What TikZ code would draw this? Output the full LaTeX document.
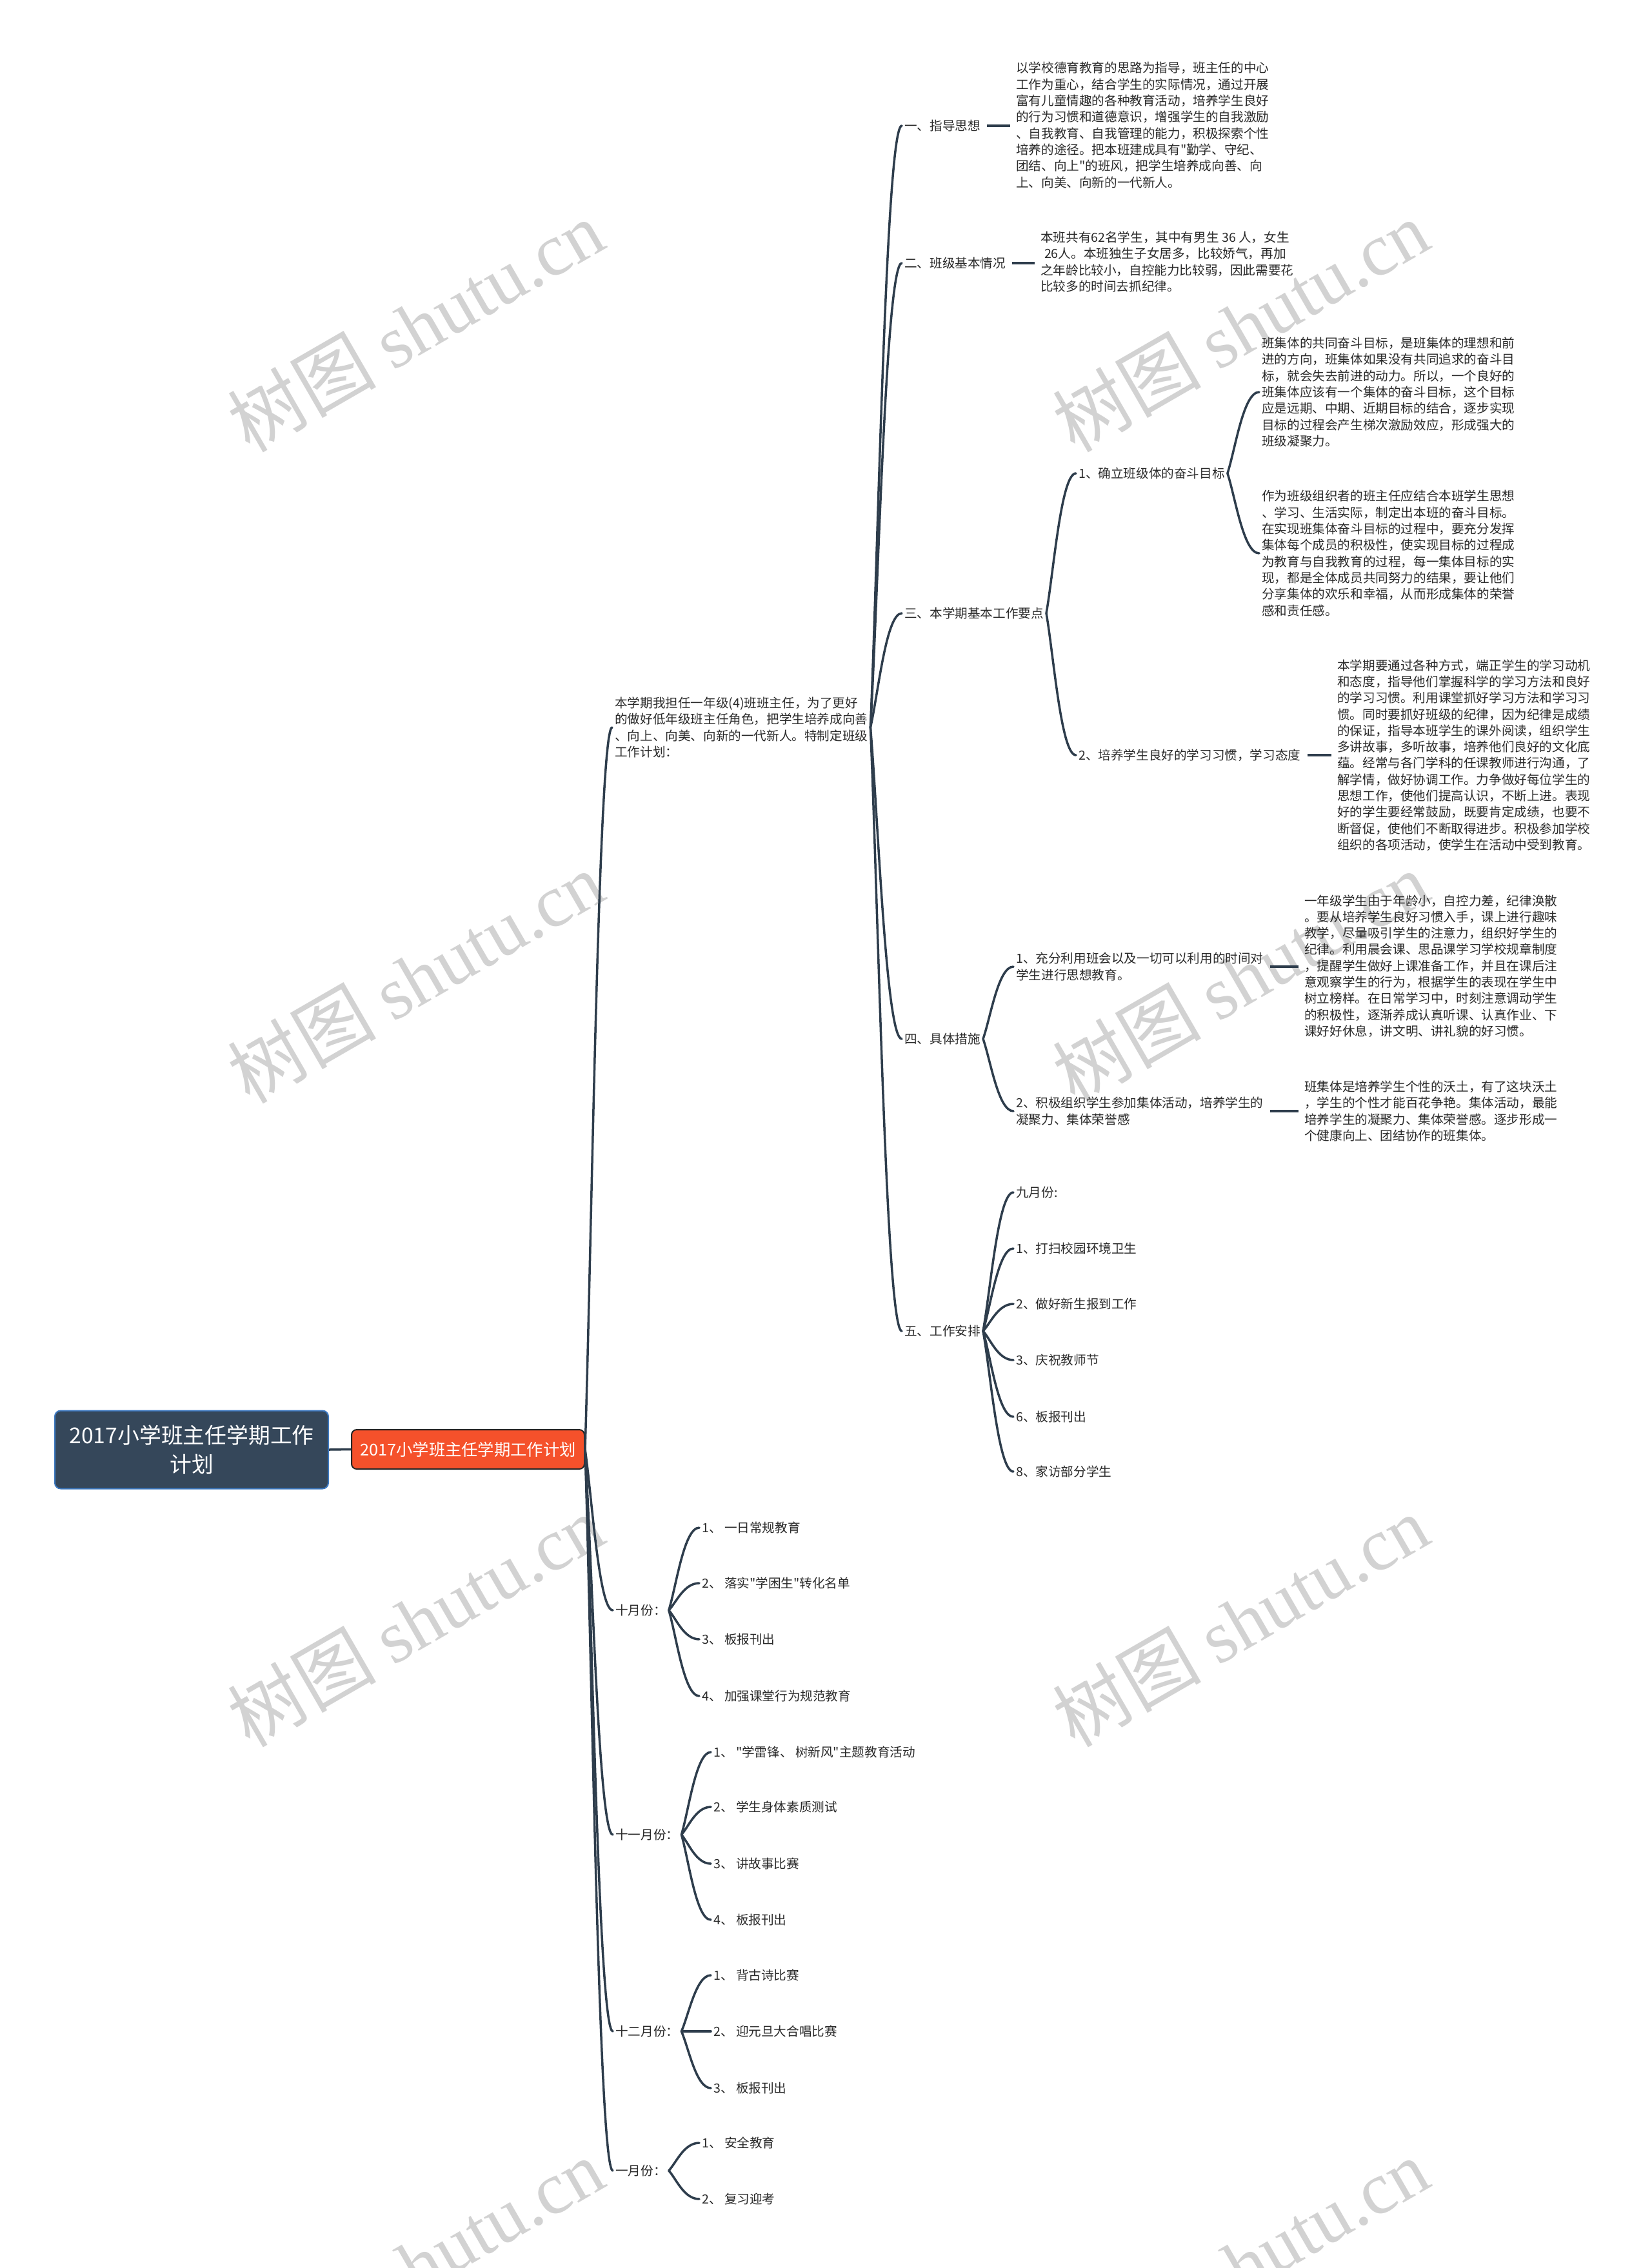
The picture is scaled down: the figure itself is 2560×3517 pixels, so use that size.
\documentclass[tikz,border=0pt]{standalone}
\usepackage{fontspec}
\setmainfont{Noto Sans CJK SC}[Ligatures=TeXOff]
\newfontfamily\wmlatin{Liberation Serif}
\usetikzlibrary{calc}
\definecolor{linec}{HTML}{2E3D4C}
\definecolor{rootfill}{HTML}{35475A}
\definecolor{rootline}{HTML}{3C78C0}
\definecolor{mainfill}{HTML}{F5512B}
\definecolor{txt}{HTML}{2A2A2A}
\definecolor{wm}{HTML}{D2D2D2}
\newcommand\fsn{\fontsize{19.6pt}{25.3pt}\selectfont}
\newcommand\cnx[2]{\draw[conn] let \p1=(#1), \p2=(#2) in (\p1) .. controls ({\x1+0.25*(\x2-\x1)},{\y1+0.3*(\y2-\y1)}) and ({\x1+0.5*(\x2-\x1)},{\y2}) .. (\p2);}
\tikzset{
  conn/.style={draw=linec, line width=3.5pt, line cap=round},
  dashc/.style={draw=linec, line width=3.5pt, shorten <=6pt, shorten >=5pt},
  lbl/.style={anchor=west, inner sep=4pt, text=txt, font=\fsn},
  blk/.style={anchor=west, inner sep=4pt, text=txt, font=\fsn, align=left},
  wmark/.style={rotate=30, text=wm, font=\fontsize{115pt}{115pt}\selectfont},
  rootbox/.style={draw=rootline, line width=2pt, fill=rootfill, rounded corners=9pt, text=white, align=center, minimum width=424pt, minimum height=121pt, font=\fontsize{33.8pt}{45pt}\selectfont},
  mainbox/.style={draw=black!85, line width=2pt, fill=mainfill, rounded corners=8pt, text=white, minimum width=361pt, minimum height=61pt, font=\fontsize{25.3pt}{30pt}\selectfont}
}
\begin{document}
\begin{tikzpicture}[x=1pt,y=1pt]
\fill[white] (0,0) rectangle (2560,-3517);
\useasboundingbox (0,0) rectangle (2560,-3517);
% watermarks
\begin{scope}
\clip (0,0) rectangle (2560,-3517);
\foreach \wy in {505,1515,2513,3511}{
  \node[wmark] (wa\wy) at (644,-\wy) {树图 {\wmlatin shutu.cn}};
  \node[wmark] (wb\wy) at (1923,-\wy) {树图 {\wmlatin shutu.cn}};
}
\end{scope}
% root and main
\node[rootbox] (root) at (297,-2248) {2017小学班主任学期工作\\计划};
\node[mainbox] (main) at (725.5,-2247.5) {2017小学班主任学期工作计划};
\draw[conn, line cap=butt] (root.east) -- (main.west);
% level 1
\node[blk] (ben) at (949,-1128) {本学期我担任一年级(4)班班主任，为了更好\\的做好低年级班主任角色，把学生培养成向善\\、向上、向美、向新的一代新人。特制定班级\\工作计划：};
\node[lbl] (oct) at (950,-2497) {十月份：};
\node[lbl] (nov) at (950,-2845) {十一月份：};
\node[lbl] (dec) at (950,-3150) {十二月份：};
\node[lbl] (jan) at (950,-3366) {一月份：};
% level 2
\node[lbl] (s1) at (1398,-195) {一、指导思想};
\node[lbl] (s2) at (1398,-408) {二、班级基本情况};
\node[lbl] (s3) at (1398,-951) {三、本学期基本工作要点};
\node[lbl] (s4) at (1398,-1611) {四、具体措施};
\node[lbl] (s5) at (1398,-2064) {五、工作安排};
\node[blk] (t1) at (1571,-194) {以学校德育教育的思路为指导，班主任的中心\\工作为重心，结合学生的实际情况，通过开展\\富有儿童情趣的各种教育活动，培养学生良好\\的行为习惯和道德意识，增强学生的自我激励\\、自我教育、自我管理的能力，积极探索个性\\培养的途径。把本班建成具有"勤学、守纪、\\团结、向上"的班风，把学生培养成向善、向\\上、向美、向新的一代新人。};
\node[blk] (t2) at (1609,-406) {本班共有62名学生，其中有男生 36 人，女生\\\hspace*{0.3em}26人。本班独生子女居多，比较娇气，再加\\之年龄比较小，自控能力比较弱，因此需要花\\比较多的时间去抓纪律。};
% section 3
\node[lbl] (s31) at (1668,-734) {1、确立班级体的奋斗目标};
\node[lbl] (s32) at (1668,-1171) {2、培养学生良好的学习习惯，学习态度};
\node[blk] (ta) at (1952,-608) {班集体的共同奋斗目标，是班集体的理想和前\\进的方向，班集体如果没有共同追求的奋斗目\\标，就会失去前进的动力。所以，一个良好的\\班集体应该有一个集体的奋斗目标，这个目标\\应是远期、中期、近期目标的结合，逐步实现\\目标的过程会产生梯次激励效应，形成强大的\\班级凝聚力。};
\node[blk] (tb) at (1952,-858) {作为班级组织者的班主任应结合本班学生思想\\、学习、生活实际，制定出本班的奋斗目标。\\在实现班集体奋斗目标的过程中，要充分发挥\\集体每个成员的积极性，使实现目标的过程成\\为教育与自我教育的过程，每一集体目标的实\\现，都是全体成员共同努力的结果，要让他们\\分享集体的欢乐和幸福，从而形成集体的荣誉\\感和责任感。};
\node[blk] (tc) at (2069,-1171) {本学期要通过各种方式，端正学生的学习动机\\和态度，指导他们掌握科学的学习方法和良好\\的学习习惯。利用课堂抓好学习方法和学习习\\惯。同时要抓好班级的纪律，因为纪律是成绩\\的保证，指导本班学生的课外阅读，组织学生\\多讲故事，多听故事，培养他们良好的文化底\\蕴。经常与各门学科的任课教师进行沟通，了\\解学情，做好协调工作。力争做好每位学生的\\思想工作，使他们提高认识，不断上进。表现\\好的学生要经常鼓励，既要肯定成绩，也要不\\断督促，使他们不断取得进步。积极参加学校\\组织的各项活动，使学生在活动中受到教育。};
% section 4
\node[blk] (s41) at (1571,-1499) {1、充分利用班会以及一切可以利用的时间对\\学生进行思想教育。};
\node[blk] (s42) at (1571,-1723) {2、积极组织学生参加集体活动，培养学生的\\凝聚力、集体荣誉感};
\node[blk] (td) at (2018,-1498) {一年级学生由于年龄小，自控力差，纪律涣散\\。要从培养学生良好习惯入手，课上进行趣味\\教学，尽量吸引学生的注意力，组织好学生的\\纪律。利用晨会课、思品课学习学校规章制度\\，提醒学生做好上课准备工作，并且在课后注\\意观察学生的行为，根据学生的表现在学生中\\树立榜样。在日常学习中，时刻注意调动学生\\的积极性，逐渐养成认真听课、认真作业、下\\课好好休息，讲文明、讲礼貌的好习惯。};
\node[blk] (te) at (2018,-1723) {班集体是培养学生个性的沃土，有了这块沃土\\，学生的个性才能百花争艳。集体活动，最能\\培养学生的凝聚力、集体荣誉感。逐步形成一\\个健康向上、团结协作的班集体。};
% section 5
\node[lbl] (s51) at (1571,-1849) {九月份:};
\node[lbl] (s52) at (1571,-1936) {1、打扫校园环境卫生};
\node[lbl] (s53) at (1571,-2022) {2、做好新生报到工作};
\node[lbl] (s54) at (1571,-2109) {3、庆祝教师节};
\node[lbl] (s55) at (1571,-2197) {6、板报刊出};
\node[lbl] (s56) at (1571,-2282) {8、家访部分学生};
% months
\node[lbl] (o1) at (1084,-2369) {1、 一日常规教育};
\node[lbl] (o2) at (1084,-2455) {2、 落实"学困生"转化名单};
\node[lbl] (o3) at (1084,-2542) {3、 板报刊出};
\node[lbl] (o4) at (1084,-2630) {4、 加强课堂行为规范教育};
\node[lbl] (n1) at (1102,-2717) {1、 "学雷锋、 树新风"主题教育活动};
\node[lbl] (n2) at (1102,-2802) {2、 学生身体素质测试};
\node[lbl] (n3) at (1102,-2890) {3、 讲故事比赛};
\node[lbl] (n4) at (1102,-2977) {4、 板报刊出};
\node[lbl] (d1) at (1102,-3063) {1、 背古诗比赛};
\node[lbl] (d2) at (1102,-3150) {2、 迎元旦大合唱比赛};
\node[lbl] (d3) at (1102,-3238) {3、 板报刊出};
\node[lbl] (j1) at (1084,-3323) {1、 安全教育};
\node[lbl] (j2) at (1084,-3410) {2、 复习迎考};
% connectors
\foreach \c in {ben,oct,nov,dec,jan}{\cnx{main.east}{\c.west}}
\foreach \c in {s1,s2,s3,s4,s5}{\cnx{ben.east}{\c.west}}
\foreach \c in {s31,s32}{\cnx{s3.east}{\c.west}}
\foreach \c in {ta,tb}{\cnx{s31.east}{\c.west}}
\foreach \c in {s41,s42}{\cnx{s4.east}{\c.west}}
\foreach \c in {s51,s52,s53,s54,s55,s56}{\cnx{s5.east}{\c.west}}
\foreach \c in {o1,o2,o3,o4}{\cnx{oct.east}{\c.west}}
\foreach \c in {n1,n2,n3,n4}{\cnx{nov.east}{\c.west}}
\foreach \c in {d1,d2,d3}{\cnx{dec.east}{\c.west}}
\foreach \c in {j1,j2}{\cnx{jan.east}{\c.west}}
\draw[dashc] (s1.east) -- (s1.east -| t1.west);
\draw[dashc] (s2.east) -- (s2.east -| t2.west);
\draw[dashc] (s32.east) -- (s32.east -| tc.west);
\draw[dashc] (s41.east) -- (s41.east -| td.west);
\draw[dashc] (s42.east) -- (s42.east -| te.west);
\end{tikzpicture}
\end{document}
